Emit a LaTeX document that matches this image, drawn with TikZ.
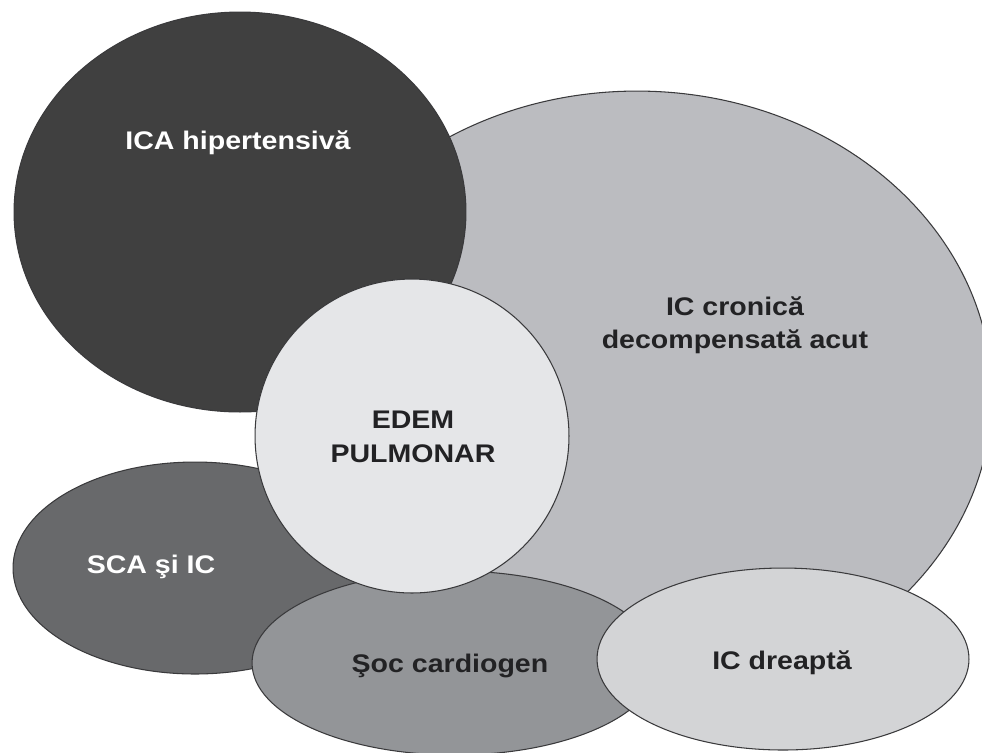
\documentclass[tikz,border=0pt]{standalone}
\usepackage{fontspec}
\setmainfont{Liberation Sans}[FakeStretch=1.12]
\usetikzlibrary{shapes.geometric}
\definecolor{edgegray}{RGB}{58,58,60}
\definecolor{txtdark}{RGB}{34,34,36}
\definecolor{fillica}{RGB}{64,64,64}
\definecolor{fillcron}{RGB}{187,188,192}
\definecolor{filledem}{RGB}{229,230,232}
\definecolor{fillsca}{RGB}{104,105,107}
\definecolor{fillsoc}{RGB}{147,149,152}
\definecolor{filldr}{RGB}{211,212,214}
\tikzset{
  blob/.style={ellipse, draw=edgegray, line width=0.6pt, inner sep=0pt},
  lbl/.style={font=\fontsize{14.5}{19}\selectfont\bfseries, align=center,
    text=txtdark, inner sep=0pt},
  wlbl/.style={lbl, text=white}
}
\begin{document}
\begin{tikzpicture}[x=0.02cm, y=-0.02cm]
  \useasboundingbox (0,0) rectangle (982,752);
  \fill[white] (0,0) rectangle (982,752);
  \clip (0,0) rectangle (982,752);

  % shapes, back to front
  \node[blob, fill=fillcron, minimum width=14.2cm, minimum height=12.16cm] (cron) at (637,395) {};
  \node[blob, fill=fillica, minimum width=9.04cm, minimum height=8.0cm] (ica) at (240,212) {};
  \node[blob, fill=fillsca, minimum width=7.28cm, minimum height=4.24cm] (sca) at (195,568) {};
  \node[blob, fill=fillsoc, minimum width=8.12cm, minimum height=3.68cm] (soc) at (455,663) {};
  \node[blob, fill=filldr, minimum width=7.44cm, minimum height=3.64cm] (dr) at (783,659) {};
  \node[blob, circle, fill=filledem, minimum size=6.28cm] (edem) at (412,436) {};

  % labels
  \node[wlbl] (icat) at (238,143) {ICA hipertensivă};
  \node[lbl] (cront) at (735,325) {IC cronică\\decompensată acut};
  \node[lbl] (edemt) at (413,437) {EDEM\\PULMONAR};
  \node[wlbl] (scat) at (151,567) {SCA şi IC};
  \node[lbl] (soct) at (450,666) {Şoc cardiogen};
  \node[lbl] (drt) at (782,663) {IC dreaptă};
\end{tikzpicture}
\end{document}
